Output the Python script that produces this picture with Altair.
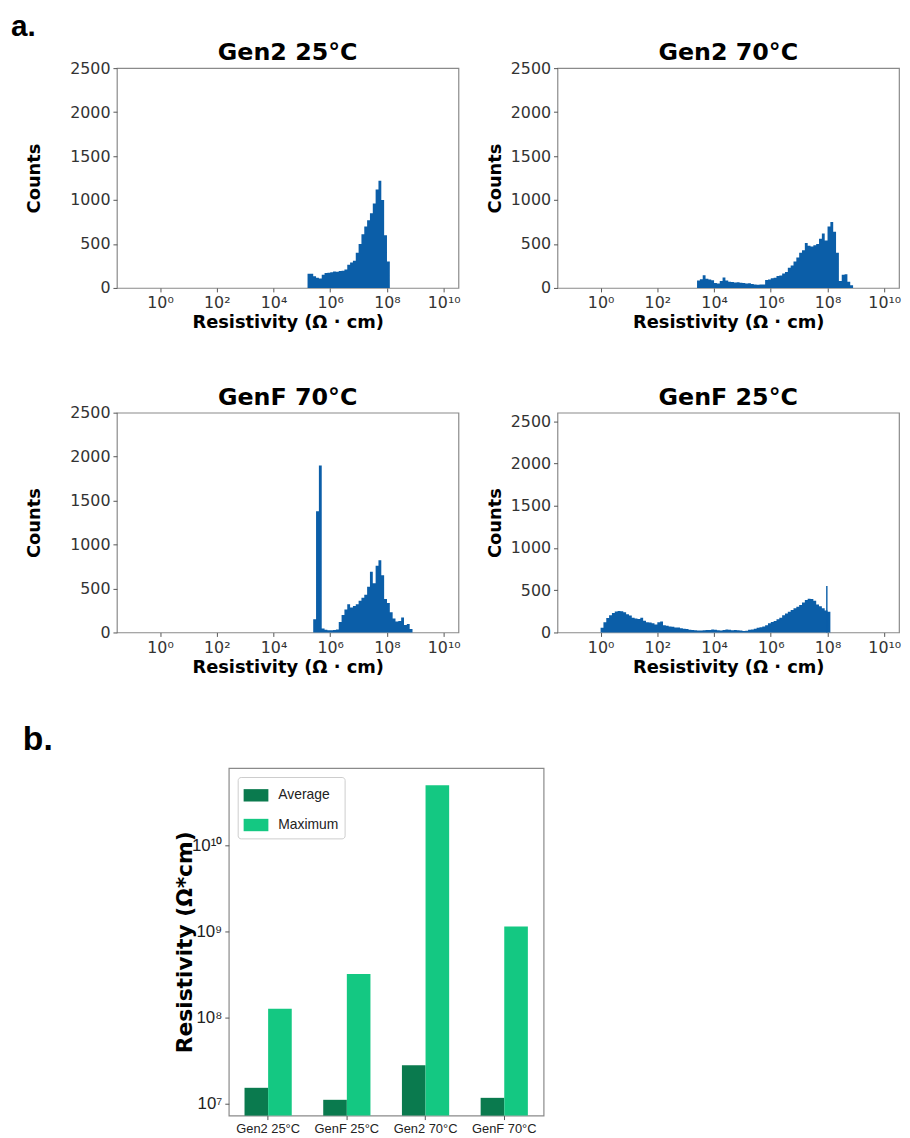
import altair as alt
import numpy as np
import pandas as pd

# ---------------- data ----------------
BIN_W = 0.1  # histogram bin width in decades

gen2_25_start = 5.2
gen2_25_counts = [160, 160, 132, 115, 108, 150, 170, 172, 178, 188, 185, 192, 195, 210,
                  265, 290, 310, 400, 500, 610, 700, 770, 850, 960, 1120, 1220, 1000, 600, 300]

gen2_70_start = 3.4
gen2_70_counts = [85, 100, 145, 105, 95, 88, 55, 50, 80, 120, 85, 70, 68, 62, 65, 60, 55, 50,
                  52, 45, 38, 35, 38, 40, 90, 95, 110, 115, 135, 140, 165, 180, 230, 255, 300,
                  345, 400, 430, 510, 480, 470, 485, 500, 560, 620, 540, 700, 750, 640, 400,
                  80, 150, 155, 70, 30]

genf_70_start = 5.4
genf_70_counts = [150, 1380, 1900, 45, 30, 25, 24, 27, 35, 120, 200, 260, 320, 285, 300, 320,
                  360, 395, 430, 520, 690, 560, 760, 820, 650, 380, 335, 230, 160, 125, 130,
                  170, 85, 95, 40]

genf_25_start = 0.0
genf_25_counts = [55, 120, 170, 205, 230, 248, 255, 250, 240, 215, 200, 175, 165, 160, 175,
                  140, 120, 118, 110, 95, 120, 130, 85, 80, 70, 68, 60, 58, 50, 45, 40, 32,
                  30, 25, 22, 22, 25, 28, 30, 35, 32, 25, 22, 28, 35, 32, 27, 28, 25, 22, 18,
                  20, 32, 36, 45, 55, 62, 70, 85, 110, 125, 135, 155, 175, 205, 225, 245, 265,
                  285, 305, 325, 355, 385, 400, 395, 375, 330, 310, 285, 260, 245]
genf_25_spike_lo = [7.95]
genf_25_spike_hi = [8.0]
genf_25_spike_counts = [550]

hist_titles = ["Gen2 25°C", "Gen2 70°C", "GenF 70°C", "GenF 25°C"]
hist_x_ticks = [1e0, 1e2, 1e4, 1e6, 1e8, 1e10]
hist_x_labels = ["10⁰", "10²", "10⁴", "10⁶", "10⁸", "10¹⁰"]
hist_y_ticks = [0, 500, 1000, 1500, 2000, 2500]

bar_categories = ["Gen2 25°C", "GenF 25°C", "Gen2 70°C", "GenF 70°C"]
bar_series = ["Average", "Maximum"]
bar_average = [1.53e7, 1.11e7, 2.8e7, 1.17e7]
bar_maximum = [1.27e8, 3.2e8, 5.0e10, 1.14e9]
bar_y_ticks = [1e7, 1e8, 1e9, 1e10]
bar_y_labels = ["10⁷", "10⁸", "10⁹", "10¹⁰"]

# ---------------- styling ----------------
BLUE = "#0b5ea8"
DARK_GREEN = "#0a7a4e"
LIGHT_GREEN = "#14c882"
MAIN_FONT = "DejaVu Sans"
NARROW = "Liberation Sans"
HW, HH = 345, 222          # histogram plot size
BW, BH = 318, 351          # bar plot size
X_DOMAIN = [10 ** -1.52, 10 ** 10.52]
BAR_Y_DOMAIN = [10 ** 6.862, 10 ** 10.897]


def step_frame(start, counts):
    """Histogram outline as step points: each bin's left edge with its count,
    closed by the last bin's right edge at zero."""
    lo = start + BIN_W * np.arange(len(counts))
    xs = list(10 ** lo) + [10 ** (lo[-1] + BIN_W)]
    ys = list(counts) + [0]
    return pd.DataFrame({"x": xs, "count": ys})


def spike_frame(lo, hi, counts):
    return pd.DataFrame({"lo": 10 ** np.array(lo), "hi": 10 ** np.array(hi), "count": counts})


def js_list(items):
    return "[" + ",".join("'" + s + "'" for s in items) + "]"


hist_label_expr = js_list(hist_x_labels) + "[round(log(datum.value)/LN10/2)]"
bar_label_expr = js_list(bar_y_labels) + "[round(log(datum.value)/LN10) - 7]"

X_ENC = alt.X("x:Q",
              scale=alt.Scale(type="log", domain=X_DOMAIN),
              axis=alt.Axis(values=hist_x_ticks, labelExpr=hist_label_expr,
                            title="Resistivity (Ω · cm)", titlePadding=3,
                            labelFlush=False))


def label_text(txt, x, y, size, font=MAIN_FONT, align="center"):
    return alt.Chart(pd.DataFrame({"t": [txt]})).mark_text(
        align=align, baseline="alphabetic", font=font, fontWeight="bold",
        fontSize=size, color="black"
    ).encode(text="t:N", x=alt.value(x), y=alt.value(y))


def extent_rule(x, y_top, y_bottom):
    # invisible guide that fixes the layout extent of a row
    return alt.Chart(pd.DataFrame({"r": [0]})).mark_rule(
        opacity=0, strokeWidth=0.01
    ).encode(x=alt.value(x), y=alt.value(y_top), y2=alt.value(y_bottom))


def hist_chart(df, title, ytitle_pad, spikes=None, extra=()):
    area = alt.Chart(df).mark_area(color=BLUE, interpolate="step-after", opacity=1).encode(
        x=X_ENC,
        y=alt.Y("count:Q",
                scale=alt.Scale(domain=[0, 2500]),
                axis=alt.Axis(values=hist_y_ticks, format="d", title="Counts",
                              titlePadding=ytitle_pad, labelFlush=False)),
    )
    layers = [area]
    if spikes is not None:
        layers.append(alt.Chart(spikes).mark_rect(color=BLUE).encode(
            x=alt.X("lo:Q", scale=alt.Scale(type="log", domain=X_DOMAIN)),
            x2="hi:Q", y="count:Q", y2=alt.datum(0)))
    layers += [label_text(title, HW / 2, -8, 24)] + list(extra)
    return alt.layer(*layers).properties(width=HW, height=HH)


tl = hist_chart(step_frame(gen2_25_start, gen2_25_counts), hist_titles[0], 26,
                extra=[label_text("a.", -107, -32, 30, font="Liberation Sans", align="left"),
                       extent_rule(-107, -60, 285)])
tr = hist_chart(step_frame(gen2_70_start, gen2_70_counts), hist_titles[1], 6)
bl = hist_chart(step_frame(genf_70_start, genf_70_counts), hist_titles[2], 26,
                extra=[extent_rule(-107, -50, 285)])
br = hist_chart(step_frame(genf_25_start, genf_25_counts), hist_titles[3], 6,
                spikes=spike_frame(genf_25_spike_lo, genf_25_spike_hi, genf_25_spike_counts))

# ---------------- bar chart ----------------
bar_df = pd.DataFrame({
    "cat": bar_categories * 2,
    "series": [bar_series[0]] * len(bar_categories) + [bar_series[1]] * len(bar_categories),
    "value": bar_average + bar_maximum,
})

bars = alt.Chart(bar_df).mark_bar().encode(
    x=alt.X("cat:N", sort=bar_categories,
            scale=alt.Scale(paddingInner=0.4, paddingOuter=0.2),
            axis=alt.Axis(title=None, labelAngle=0, labelFont=NARROW, labelFontSize=13,
                          labelColor="#222", labelPadding=3)),
    xOffset=alt.XOffset("series:N", sort=bar_series,
                        scale=alt.Scale(paddingInner=0, paddingOuter=0)),
    y=alt.Y("value:Q",
            scale=alt.Scale(type="log", domain=BAR_Y_DOMAIN),
            axis=alt.Axis(values=bar_y_ticks, labelExpr=bar_label_expr,
                          labelFont=NARROW, labelFontSize=17, labelColor="#222",
                          title="Resistivity (Ω*cm)", titleFontSize=22, titlePadding=-5,
                          labelFlush=False)),
    y2=alt.datum(BAR_Y_DOMAIN[0]),
    color=alt.Color("series:N", sort=bar_series,
                    scale=alt.Scale(domain=bar_series, range=[DARK_GREEN, LIGHT_GREEN]),
                    legend=alt.Legend(title=None, orient="top-left", offset=9,
                                      symbolType="M-1,-0.5H1V0.5H-1Z", symbolSize=625,
                                      symbolStrokeWidth=0, labelFont=NARROW,
                                      labelFontSize=14, labelColor="#222",
                                      labelOffset=10, rowPadding=10, padding=6,
                                      fillColor="white", strokeColor="#cccccc",
                                      cornerRadius=3)),
)

bar_chart = alt.layer(
    bars, label_text("b.", -208, -18, 34, font="Liberation Sans", align="left")
).properties(width=BW, height=BH)

spacer = alt.layer(extent_rule(-107, -62, 380)).properties(
    width=13, height=BH, view=alt.ViewBackground(stroke=None))

row1 = alt.hconcat(tl, tr, spacing=100, bounds="flush")
row2 = alt.hconcat(bl, br, spacing=100, bounds="flush")
row3 = alt.hconcat(spacer, bar_chart, spacing=100, bounds="flush").resolve_scale(
    color="independent").resolve_legend(color="independent")

chart = alt.vconcat(row1, row2, row3, spacing=11).resolve_scale(
    color="independent").resolve_legend(color="independent").properties(
    padding={"left": 2, "top": -6, "right": 0, "bottom": 0}
).configure_view(
    stroke="#8a8a8a", strokeWidth=1.2
).configure_axis(
    grid=False, domain=False,
    labelFont=MAIN_FONT, labelFontSize=16, labelColor="#333",
    titleFont=MAIN_FONT, titleFontSize=18, titleFontWeight="bold", titleColor="black",
    tickColor="#555", tickSize=4, tickWidth=1, labelPadding=3,
)

chart.save("out.html", embed_options={"renderer": "svg", "actions": False})
